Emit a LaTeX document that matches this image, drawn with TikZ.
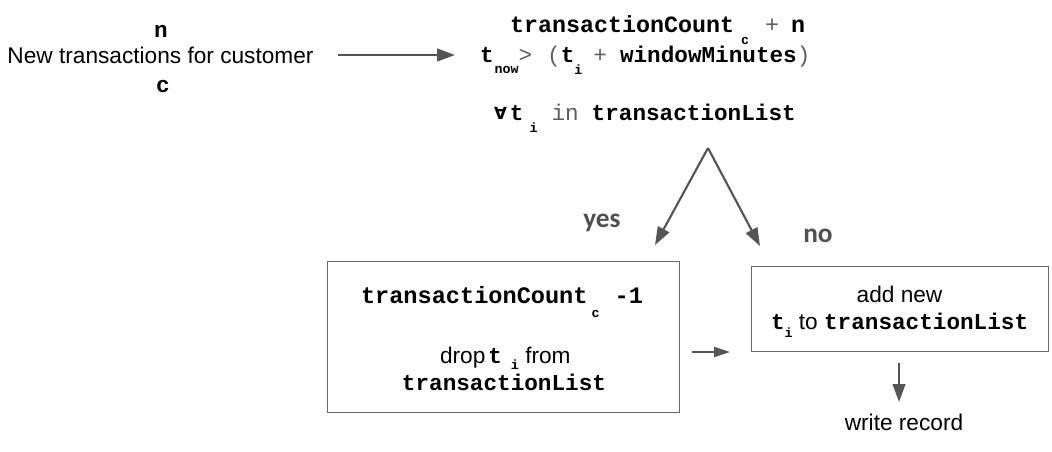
\documentclass[tikz,border=0pt]{standalone}
\usepackage{fontspec}
\setmainfont{Liberation Sans}
\setmonofont{Liberation Mono}
\newfontfamily\calfont{Carlito}
\newfontfamily\dvfont{DejaVu Sans}
\usetikzlibrary{arrows.meta}
\definecolor{arrowgray}{RGB}{85,85,85}
\definecolor{boxgray}{RGB}{105,105,105}
\definecolor{lblgray}{RGB}{80,80,80}
\definecolor{litegray}{RGB}{95,95,95}
\newcommand\hpx[1]{\hspace*{\dimexpr #1pt*3/4\relax}}
\newcommand\subm[2]{\raisebox{-\dimexpr #1pt*3/4\relax}{\fontsize{10}{10}\selectfont\ttfamily\bfseries #2}}
\newcommand\lite[1]{{\mdseries\color{litegray}#1}}
\begin{document}
\begin{tikzpicture}[x=0.75pt,y=-0.75pt,
  lt/.style={inner sep=0pt,outer sep=0pt,anchor=base west},
  ct/.style={inner sep=0pt,outer sep=0pt,anchor=base},
  sfont/.style={font=\fontsize{17}{20}\selectfont},
  mfont/.style={font=\fontsize{17}{20}\selectfont\ttfamily\bfseries},
  answer/.style={inner sep=0pt,anchor=base west,text=lblgray,font=\fontsize{20.5}{24}\selectfont\calfont\bfseries},
  box/.style={draw=boxgray,line width=1.1pt,inner sep=0pt,anchor=north west},
  arr/.style={draw=arrowgray,line width=1.6pt,-{Triangle[length=13.5pt,width=9.5pt]}}]
\useasboundingbox (0,0) rectangle (1052,451);

% source text
\node[ct,mfont] (nn) at (161,37) {n};
\node[ct,sfont] (newtx) at (160.5,63) {New transactions for customer};
\node[ct,mfont] (cc) at (163,92) {c};

% condition block
\node[lt,font=\fontsize{17.5}{20}\selectfont\ttfamily\bfseries] (l1) at (510,32)
  {transactionCount\hpx{7}\subm{12}{c}\hpx{16}\lite{+}\hpx{12}n};
\node[lt,mfont] (l2) at (480,62)
  {t\hpx{1}\subm{11}{now}\lite{>}\hpx{15}\lite{(}t\subm{12}{i}\hpx{11}\lite{+}\hpx{13}windowMinutes\lite{)}};
\node[lt,mfont] (l3) at (494,120)
  {{\dvfont\bfseries\fontsize{12.5}{12}\selectfont\raisebox{0.5pt}{∀}}\hpx{3}t\hpx{6}\subm{12}{i}\hpx{14}\lite{in}\hpx{13}transactionList};

% branches
\coordinate (apex) at (708,148);
\coordinate (yesend) at (655,245);
\coordinate (noend) at (760,246);
\draw[arr] (apex) -- (yesend);
\draw[arr] (apex) -- (noend);
\node[answer] (yes) at (583,227) {yes};
\node[answer] (no) at (803,242) {no};

% left box
\node[box,minimum width=264pt,minimum height=113.25pt] (lbox) at (327,261) {};
\node[lt,font=\fontsize{17.7}{20}\selectfont\ttfamily\bfseries] (lb1) at (361,303)
  {transactionCount\hpx{4}\subm{14}{c}\hpx{15}-1};
\node[lt,sfont] (lb2) at (440,363)
  {drop\hpx{3}{\ttfamily\bfseries t}\hpx{9}\subm{6}{i} from};
\node[ct,mfont] (lb3) at (504,390) {transactionList};

% right box
\node[box,minimum width=222.75pt,minimum height=63.75pt] (rbox) at (751,266) {};
\node[ct,sfont] (rb1) at (899.5,302) {add new};
\node[lt,sfont] (rb2) at (771,329)
  {{\ttfamily\bfseries t}\subm{8}{i} to {\ttfamily\bfseries transactionList}};

\node[ct,sfont] (write) at (904,430) {write record};

% connectors
\coordinate (a1s) at (338,55);
\coordinate (a1e) at (455,55);
\draw[arr] (a1s) -- (a1e);
\coordinate (a2s) at (692,352);
\coordinate (a2e) at (730,352);
\draw[arr,-{Triangle[length=12pt,width=7.5pt]}] (a2s) -- (a2e);
\coordinate (a3s) at (899,363);
\coordinate (a3e) at (899,402);
\draw[arr] (a3s) -- (a3e);
\end{tikzpicture}
\end{document}
